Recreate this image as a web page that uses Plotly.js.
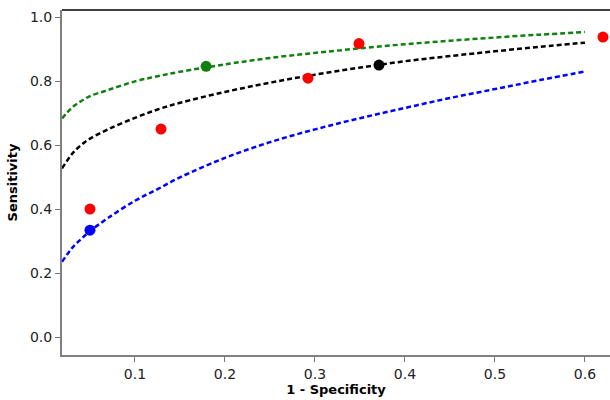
<!DOCTYPE html>
<html>
<head>
<meta charset="utf-8">
<script src="https://cdn.plot.ly/plotly-3.0.1.min.js"></script>
<style>html,body{margin:0;padding:0;background:#fff}#chart{width:610px;height:400px}</style>
</head>
<body>
<div id="chart"></div>
<script>
// Curves (1 - Specificity, Sensitivity)
const curveX = [0.0189, 0.03, 0.04, 0.05, 0.07, 0.1, 0.125, 0.15, 0.2, 0.25, 0.3, 0.35, 0.4, 0.45, 0.5, 0.55, 0.6];
const greenY = [0.683, 0.717, 0.737, 0.753, 0.772, 0.799, 0.815, 0.829, 0.852, 0.872, 0.888, 0.902, 0.915, 0.926, 0.936, 0.945, 0.953];
const blackY = [0.527, 0.572, 0.600, 0.620, 0.649, 0.685, 0.711, 0.732, 0.766, 0.795, 0.820, 0.842, 0.862, 0.878, 0.893, 0.907, 0.920];
const blueY  = [0.235, 0.278, 0.306, 0.331, 0.372, 0.426, 0.462, 0.499, 0.560, 0.609, 0.649, 0.684, 0.716, 0.747, 0.775, 0.803, 0.830];

// Study points
const redX = [0.05, 0.1289, 0.2922, 0.3489, 0.62];
const redY = [0.40, 0.65, 0.809, 0.917, 0.9375];
const greenPtX = [0.179];
const greenPtY = [0.846];
const blackPtX = [0.3711];
const blackPtY = [0.850];
const bluePtX = [0.05];
const bluePtY = [0.334];

const xTicks = [0.1, 0.2, 0.3, 0.4, 0.5, 0.6];
const yTicks = [0.0, 0.2, 0.4, 0.6, 0.8, 1.0];

const dash = '5px,3px';
const traces = [
  {x: curveX, y: greenY, mode: 'lines', line: {color: '#108010', width: 2.5, dash: dash, shape: 'spline'}},
  {x: curveX, y: blackY, mode: 'lines', line: {color: '#000000', width: 2.5, dash: dash, shape: 'spline'}},
  {x: curveX, y: blueY, mode: 'lines', line: {color: '#0000ff', width: 2.5, dash: dash, shape: 'spline'}},
  {x: redX, y: redY, mode: 'markers', marker: {color: '#ff0000', size: 11}},
  {x: greenPtX, y: greenPtY, mode: 'markers', marker: {color: '#108010', size: 11}},
  {x: blackPtX, y: blackPtY, mode: 'markers', marker: {color: '#000000', size: 11}},
  {x: bluePtX, y: bluePtY, mode: 'markers', marker: {color: '#0000ff', size: 11}}
];

const fam = 'DejaVu Sans, Verdana, sans-serif';
const layout = {
  width: 610, height: 400,
  margin: {l: 62, r: 0, t: 10, b: 45},
  showlegend: false,
  paper_bgcolor: '#fff', plot_bgcolor: '#fff',
  font: {family: fam, size: 14, color: '#222'},
  xaxis: {
    range: [0.0189, 0.6278],
    tickvals: xTicks, ticktext: xTicks.map(v => v.toFixed(1)),
    ticks: 'outside', ticklen: 5, tickcolor: '#777', tickwidth: 1,
    showline: true, linecolor: '#808080', linewidth: 2,
    showgrid: false, zeroline: false,
    tickfont: {family: fam, size: 14, color: '#222'},
    title: {text: '<b>1 - Specificity</b>', font: {family: fam, size: 13, color: '#000'}, standoff: 3}
  },
  yaxis: {
    range: [-0.056, 1.022],
    tickvals: yTicks, ticktext: yTicks.map(v => v.toFixed(1)),
    ticks: 'outside', ticklen: 5, tickcolor: '#777', tickwidth: 1,
    showline: true, linecolor: '#808080', linewidth: 2,
    showgrid: false, zeroline: false,
    tickfont: {family: fam, size: 14, color: '#222'},
    title: {text: '<b>Sensitivity</b>', font: {family: fam, size: 13, color: '#000'}, standoff: 9}
  },
  shapes: [
    {type: 'line', xref: 'paper', yref: 'paper', x0: 0, x1: 1, y0: 1, y1: 1, line: {color: '#000', width: 1.5}}
  ]
};

Plotly.newPlot('chart', traces, layout, {displayModeBar: false, staticPlot: true});
</script>
</body>
</html>
